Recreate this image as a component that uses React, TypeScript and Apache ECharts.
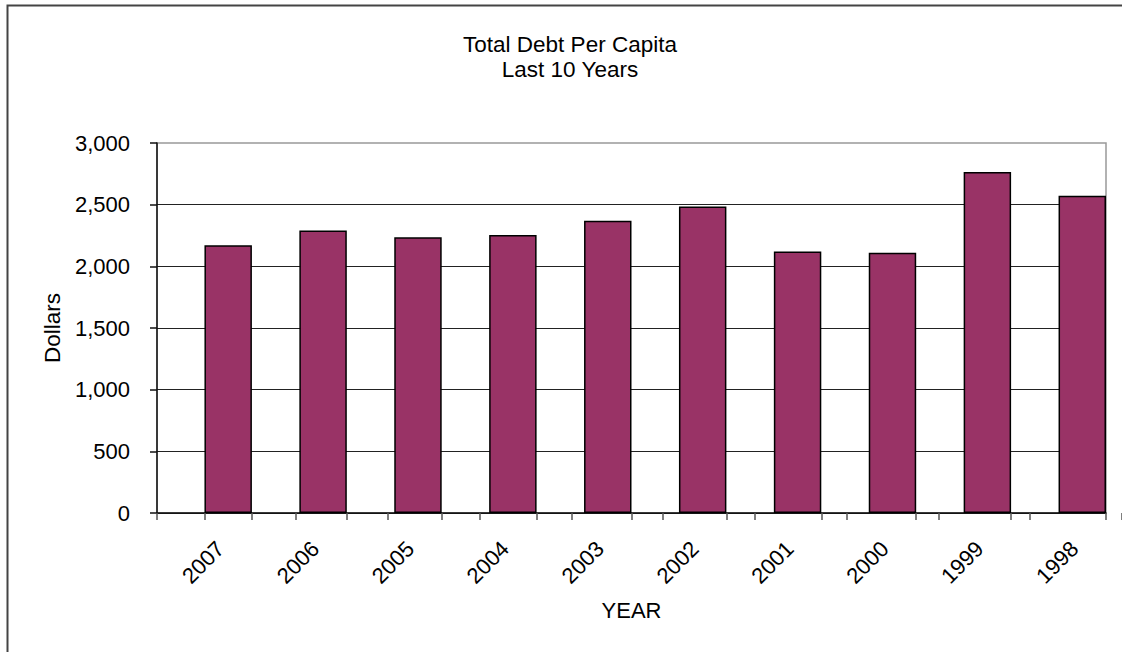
import { useEffect, useRef } from 'react';
import * as echarts from 'echarts';

// ---- data ----
const years = ['2007', '2006', '2005', '2004', '2003', '2002', '2001', '2000', '1999', '1998'];
const debtPerCapita = [2170, 2290, 2235, 2255, 2370, 2485, 2120, 2110, 2765, 2572];
const yMin = 0;
const yMax = 3000;
const yStep = 500;
const titleLines = ['Total Debt Per Capita', 'Last 10 Years'];
const yAxisTitle = 'Dollars';
const xAxisTitle = 'YEAR';

// ---- layout ----
const W = 1122;
const H = 652;
const PLOT_LEFT = 157;
const PLOT_TOP = 143;
const PLOT_W = 949;
const PLOT_H = 370;
const CAT_W = PLOT_W / years.length;
const LABEL_SHIFT = 16;
const FONT = '"Liberation Sans", Arial, Helvetica, sans-serif';
const FS = 22;
const BAR_COLOR = '#993366';

export default function App() {
  const ref = useRef<HTMLDivElement>(null);

  useEffect(() => {
    if (!ref.current) return;
    const chart = echarts.init(ref.current, null, { renderer: 'svg', width: W, height: H });

    const gridBase = { top: PLOT_TOP, width: PLOT_W, height: PLOT_H, containLabel: false };
    const hiddenY = (gridIndex: number) => ({
      type: 'value' as const,
      gridIndex,
      min: yMin,
      max: yMax,
      interval: yStep,
      show: false,
    });

    chart.setOption({
      animation: false,
      backgroundColor: '#ffffff',
      textStyle: { fontFamily: FONT },
      graphic: [
        {
          type: 'rect',
          shape: { x: 7.5, y: 5.5, width: 1300, height: 800 },
          style: { fill: 'none', stroke: '#444', lineWidth: 2 },
          silent: true,
        },
        {
          type: 'text',
          x: 570,
          y: 32,
          style: {
            text: titleLines.join('\n'),
            align: 'center',
            verticalAlign: 'top',
            fontFamily: FONT,
            fontSize: 22.5,
            lineHeight: 25,
            fill: '#000',
          },
        },
      ],
      grid: [
        { ...gridBase, left: PLOT_LEFT, show: true, borderColor: '#999', borderWidth: 1.5 },
        { ...gridBase, left: PLOT_LEFT + CAT_W / 2 },
        { ...gridBase, left: PLOT_LEFT + LABEL_SHIFT },
      ],
      xAxis: [
        {
          type: 'category',
          gridIndex: 0,
          data: years,
          axisLine: { show: true, lineStyle: { color: '#111', width: 1.5 } },
          axisTick: { show: true, length: 7, lineStyle: { color: '#555', width: 1.5 } },
          axisLabel: { show: false },
          name: xAxisTitle,
          nameLocation: 'middle',
          nameGap: 86,
          nameTextStyle: { fontFamily: FONT, fontSize: FS, color: '#000' },
        },
        {
          type: 'category',
          gridIndex: 1,
          data: years,
          axisLine: { show: false },
          axisTick: { show: true, length: 7, lineStyle: { color: '#555', width: 1.5 } },
          axisLabel: { show: false },
        },
        {
          type: 'category',
          gridIndex: 2,
          data: years,
          axisLine: { show: false },
          axisTick: { show: false },
          axisLabel: {
            show: true,
            rotate: 45,
            margin: 32,
            interval: 0,
            fontFamily: FONT,
            fontSize: FS,
            color: '#000',
          },
        },
      ],
      yAxis: [
        {
          type: 'value',
          gridIndex: 0,
          min: yMin,
          max: yMax,
          interval: yStep,
          axisLine: { show: true, lineStyle: { color: '#111', width: 1.5 } },
          axisTick: { show: true, length: 7, lineStyle: { color: '#111', width: 1.5 } },
          axisLabel: {
            margin: 27,
            fontFamily: FONT,
            fontSize: FS,
            color: '#000',
            formatter: (v: number) => v.toLocaleString('en-US'),
          },
          splitLine: {
            show: true,
            showMaxLine: false,
            lineStyle: { color: '#222', width: 1 },
          },
          name: yAxisTitle,
          nameLocation: 'middle',
          nameRotate: 90,
          nameGap: 93,
          nameTextStyle: { fontFamily: FONT, fontSize: 22.5, color: '#000' },
        },
        hiddenY(1),
        hiddenY(2),
      ],
      series: [
        {
          type: 'bar',
          name: 'spacer',
          xAxisIndex: 0,
          yAxisIndex: 0,
          data: [],
          barGap: '0%',
          barCategoryGap: '0%',
        },
        {
          type: 'bar',
          name: 'Total Debt Per Capita',
          xAxisIndex: 0,
          yAxisIndex: 0,
          data: debtPerCapita,
          barGap: '0%',
          barCategoryGap: '0%',
          itemStyle: { color: BAR_COLOR, borderColor: '#000', borderWidth: 1.5 },
        },
      ],
    });

    return () => chart.dispose();
  }, []);

  return (
    <div
      ref={ref}
      style={{ position: 'fixed', left: 0, top: 0, width: W, height: H, background: '#fff' }}
    />
  );
}
